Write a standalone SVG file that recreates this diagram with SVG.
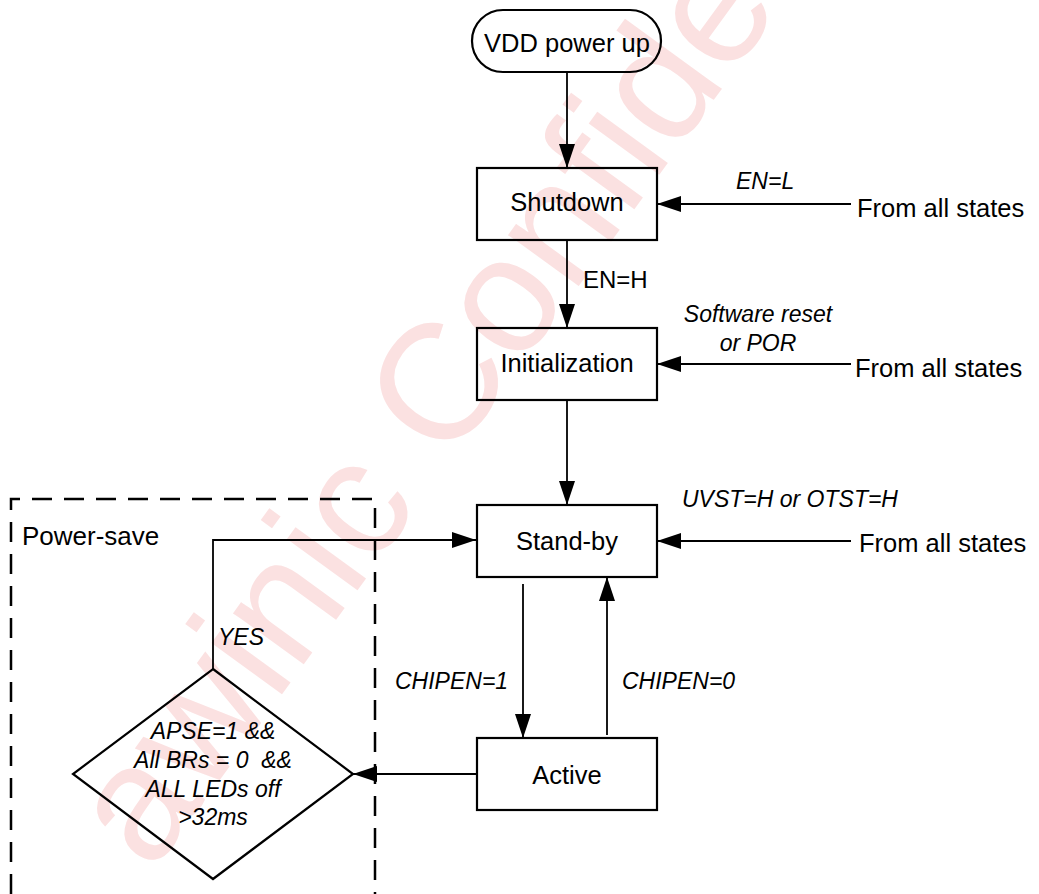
<svg xmlns="http://www.w3.org/2000/svg" width="1039" height="894" viewBox="0 0 1039 894">
<style>
.box{fill:none;stroke:#000;stroke-width:2.2}
.ln{fill:none;stroke:#000;stroke-width:1.8}
.t{font-family:"Liberation Sans",Arial,sans-serif;font-size:25.5px;fill:#000}
.i{font-family:"Liberation Sans",Arial,sans-serif;font-size:23px;font-style:italic;fill:#000}
.wm{font-family:"Liberation Sans",Arial,sans-serif;font-size:165px;fill:#fbe1e1}
</style>
<defs>
<marker id="ah" markerUnits="userSpaceOnUse" markerWidth="24" markerHeight="16" refX="24" refY="8" orient="auto">
<path d="M0,0 L24,8 L0,16 z" fill="#000"/>
</marker>
</defs>
<rect width="1039" height="894" fill="#fff"/>
<text class="wm" x="154" y="872" transform="rotate(3.8 125 835) rotate(-57.8 154 872)">awinic Confidential</text>

<g id="powersave">
<path d="M11,894 L11,499 L375,499 L375,894" fill="none" stroke="#000" stroke-width="2.5" stroke-dasharray="20,12"/>
<text class="t" x="22" y="545" style="font-size:26px">Power-save</text>
</g>

<g id="connectors">
<line class="ln" x1="567" y1="72" x2="567" y2="168" marker-end="url(#ah)"/>
<line class="ln" x1="567" y1="240" x2="567" y2="328" marker-end="url(#ah)"/>
<line class="ln" x1="567" y1="400" x2="567" y2="505" marker-end="url(#ah)"/>
<line class="ln" x1="851" y1="204" x2="657" y2="204" marker-end="url(#ah)"/>
<line class="ln" x1="851" y1="364" x2="657" y2="364" marker-end="url(#ah)"/>
<line class="ln" x1="851" y1="541" x2="657" y2="541" marker-end="url(#ah)"/>
<line class="ln" x1="523" y1="584" x2="523" y2="738" marker-end="url(#ah)"/>
<line class="ln" x1="607" y1="735" x2="607" y2="577" marker-end="url(#ah)"/>
<line class="ln" x1="476" y1="774" x2="353" y2="774" marker-end="url(#ah)"/>
<polyline class="ln" points="213,669 213,540 476,540" marker-end="url(#ah)"/>
<text class="i" x="736" y="189">EN=L</text>
<text class="t" x="583" y="288" style="font-size:24px">EN=H</text>
<text class="i" x="758" y="322" text-anchor="middle">Software reset</text>
<text class="i" x="758" y="351" text-anchor="middle">or POR</text>
<text class="i" x="682" y="507">UVST=H or OTST=H</text>
<text class="i" x="395" y="689">CHIPEN=1</text>
<text class="i" x="622" y="689">CHIPEN=0</text>
<text class="i" x="218" y="645">YES</text>
<text class="t" x="857" y="217">From all states</text>
<text class="t" x="855" y="377">From all states</text>
<text class="t" x="859" y="552">From all states</text>
</g>

<g id="vdd">
<rect class="box" x="472" y="10" width="189" height="62" rx="31"/>
<text class="t" x="567" y="52" text-anchor="middle">VDD power up</text>
</g>
<g id="shutdown">
<rect class="box" x="477" y="168" width="180" height="72"/>
<text class="t" x="567" y="211" text-anchor="middle">Shutdown</text>
</g>
<g id="init">
<rect class="box" x="477" y="328" width="180" height="72"/>
<text class="t" x="567" y="372" text-anchor="middle">Initialization</text>
</g>
<g id="standby">
<rect class="box" x="477" y="505" width="180" height="72"/>
<text class="t" x="567" y="550" text-anchor="middle">Stand-by</text>
</g>
<g id="active">
<rect class="box" x="477" y="738" width="180" height="72"/>
<text class="t" x="567" y="784" text-anchor="middle">Active</text>
</g>
<g id="decision">
<polygon class="box" points="213,669 353,774 213,879 73,774"/>
<text class="i" x="213" y="739" text-anchor="middle">APSE=1 &amp;&amp;</text>
<text class="i" x="213" y="768" text-anchor="middle" xml:space="preserve">All BRs = 0  &amp;&amp;</text>
<text class="i" x="213" y="797" text-anchor="middle">ALL LEDs off</text>
<text class="i" x="213" y="825" text-anchor="middle">&gt;32ms</text>
</g>
</svg>
